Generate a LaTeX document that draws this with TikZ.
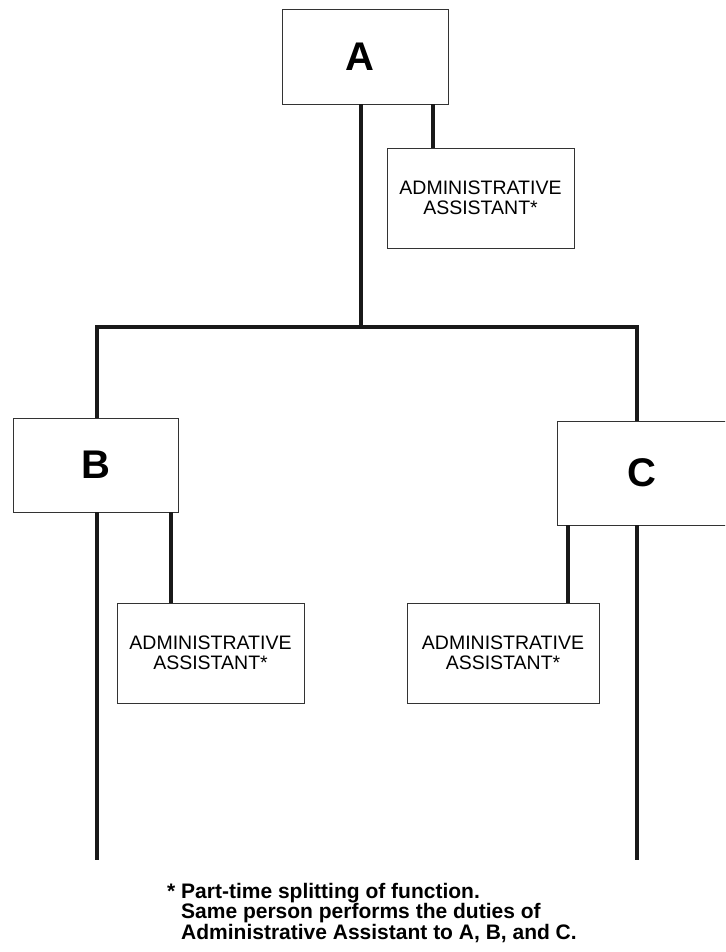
\documentclass[tikz,border=0pt]{standalone}
\usepackage{fontspec}
\setmainfont{Liberation Sans}
\begin{document}
\begin{tikzpicture}[x=1pt,y=-1pt,
  box/.style={draw=black!80, line width=0.9pt, fill=white, inner sep=0pt, align=center},
  chief/.style={box, font=\fontsize{40}{40}\selectfont\bfseries},
  assist/.style={box, font=\fontsize{19.5}{19.5}\selectfont, minimum height=100pt},
  conn/.style={line width=4.8pt, draw=black!90}]
\useasboundingbox (0,0) rectangle (725,952);
\clip (0,0) rectangle (725,952);

% managers
\node[chief, minimum width=166pt, minimum height=95pt] (A) at (365,56.5) {\hspace*{-10pt}A};
\node[chief, minimum width=165pt, minimum height=94pt] (B) at (95.5,465) {B};
\node[chief, minimum width=170pt, minimum height=104pt] (C) at (642,473) {C};

% assistants
\node[assist, minimum width=187pt] (aA) at (480.5,198) {ADMINISTRATIVE\\ASSISTANT*};
\node[assist, minimum width=187pt] (aB) at (210.5,653) {ADMINISTRATIVE\\ASSISTANT*};
\node[assist, minimum width=192pt] (aC) at (503,653) {ADMINISTRATIVE\\ASSISTANT*};

% junctions and stub positions
\coordinate (jA) at (361,327);
\coordinate (jB) at (97,327);
\coordinate (jC) at (637,327);
\coordinate (endB) at (97,860);
\coordinate (endC) at (637,860);
\coordinate (sA) at (433,0);
\coordinate (sB) at (171,0);
\coordinate (sC) at (568,0);

% reporting lines
\draw[conn] (A.south -| jA) -- (jA);
\draw[conn, line join=miter] (B.north -| jB) |- (jC) -- (C.north -| jC);
\draw[conn] (B.south -| jB) -- (endB);
\draw[conn] (C.south -| jC) -- (endC);
\draw[conn] (A.south -| sA) -- (aA.north -| sA);
\draw[conn] (B.south -| sB) -- (aB.north -| sB);
\draw[conn] (C.south -| sC) -- (aC.north -| sC);

% footnote (base anchor sits on the last line)
\node[anchor=base west, font=\fontsize{21}{20.5}\selectfont\bfseries, align=left, inner sep=0pt] (note) at (167,939)
  {* Part-time splitting of function.\\\hphantom{* }Same person performs the duties of\\\hphantom{* }Administrative Assistant to A, B, and C.};
\end{tikzpicture}
\end{document}
